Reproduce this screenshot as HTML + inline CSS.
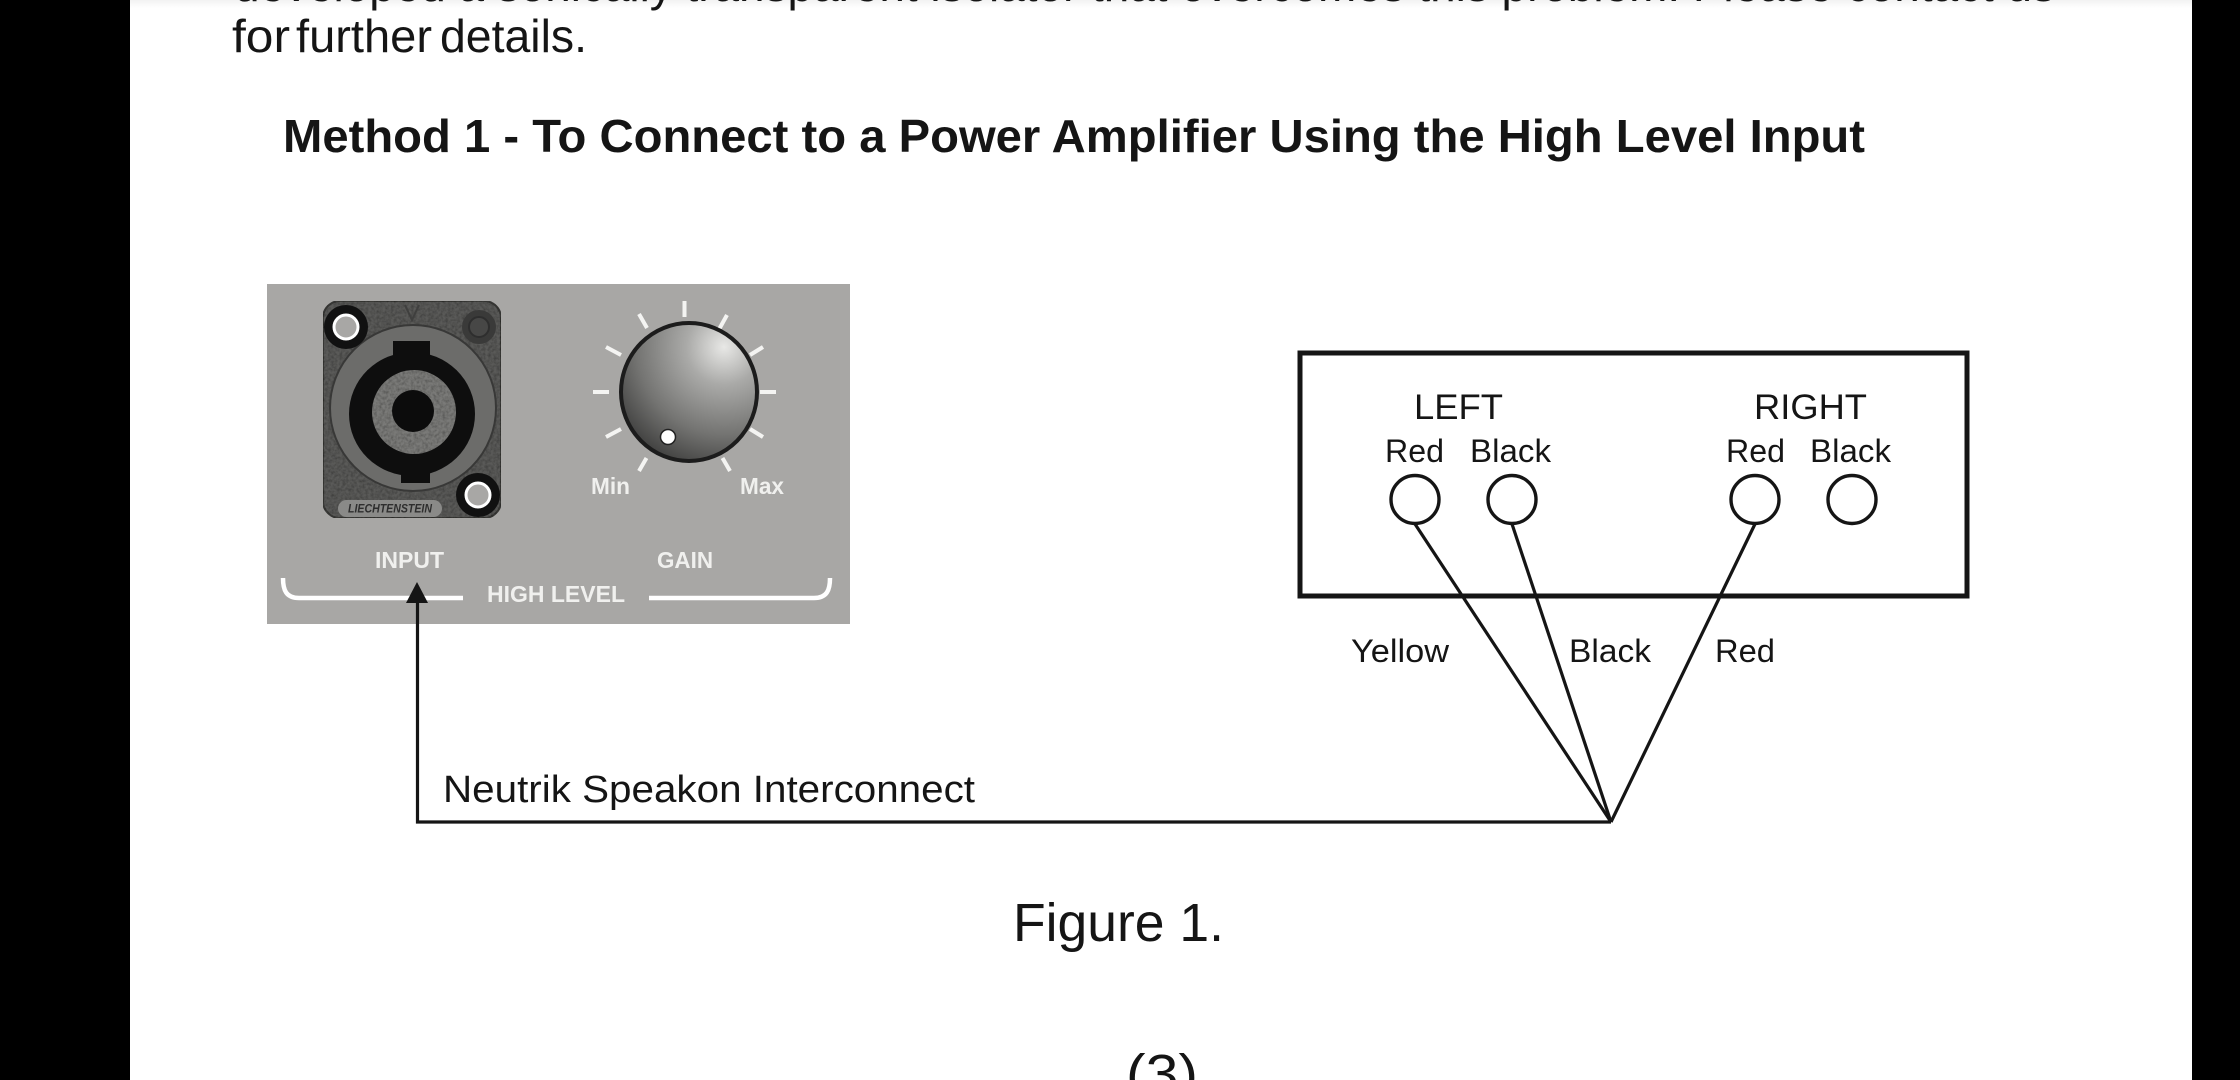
<!DOCTYPE html>
<html>
<head>
<meta charset="utf-8">
<style>
html,body{margin:0;padding:0;width:2240px;height:1080px;overflow:hidden;background:linear-gradient(90deg,#000 130px,#fff 130px,#fff 2192px,#000 2192px)}
svg{display:block;position:absolute;left:0;top:0;filter:blur(.35px)}
text{font-family:"Liberation Sans",sans-serif;fill:#151515}
</style>
</head>
<body>
<svg width="2240" height="1080" viewBox="0 0 2240 1080" xmlns="http://www.w3.org/2000/svg">
<defs>
<radialGradient id="knob" gradientUnits="userSpaceOnUse" cx="724" cy="347" r="125">
<stop offset="0" stop-color="#e8e8e6"/>
<stop offset=".3" stop-color="#aaaaa8"/>
<stop offset=".7" stop-color="#747472"/>
<stop offset="1" stop-color="#424241"/>
</radialGradient>
<linearGradient id="top" x1="0" y1="0" x2="0" y2="1">
<stop offset="0" stop-color="#ececec"/>
<stop offset="1" stop-color="#ffffff"/>
</linearGradient>
<filter id="noise" x="0" y="0" width="100%" height="100%">
<feTurbulence type="fractalNoise" baseFrequency=".35" numOctaves="2" seed="4"/>
<feColorMatrix type="matrix" values="0 0 0 0 0  0 0 0 0 0  0 0 0 0 0  0 0 0 .9 -.3"/>
<feComposite in2="SourceGraphic" operator="in"/>
<feMerge><feMergeNode in="SourceGraphic"/><feMergeNode/></feMerge>
</filter>
</defs>

<!-- page -->
<rect x="130" y="-4" width="2062" height="1088" fill="#fff"/>
<rect x="130" y="-4" width="2062" height="12" fill="url(#top)"/>

<!-- body text -->
<text x="234" y="1" font-size="46" textLength="1821" lengthAdjust="spacingAndGlyphs">developed a sonically transparent isolator that overcomes this problem. Please contact us</text>
<text x="232" y="52" font-size="46" textLength="58" lengthAdjust="spacingAndGlyphs">for</text>
<text x="296" y="52" font-size="46" textLength="136" lengthAdjust="spacingAndGlyphs">further</text>
<text x="440" y="52" font-size="46" textLength="147" lengthAdjust="spacingAndGlyphs">details.</text>
<text x="283" y="152" font-size="46" font-weight="bold" textLength="1582" lengthAdjust="spacingAndGlyphs">Method 1 - To Connect to a Power Amplifier Using the High Level Input</text>

<!-- grey panel -->
<rect x="267" y="284" width="583" height="340" fill="#a8a7a5"/>

<!-- connector -->
<rect x="323" y="301" width="178" height="217" rx="17" fill="#5a5a58" stroke="#3a3a39" stroke-width="2" filter="url(#noise)"/>
<ellipse cx="413" cy="408" rx="83" ry="83" fill="#6c6c6a" stroke="#383837" stroke-width="2"/>
<ellipse cx="412" cy="414" rx="63" ry="62" fill="#0e0e0e"/>
<rect x="393" y="341" width="37" height="22" fill="#0e0e0e"/>
<rect x="401" y="466" width="29" height="17" fill="#0e0e0e"/>
<ellipse cx="414" cy="412" rx="42" ry="42" fill="#7a7a78" filter="url(#noise)"/>
<ellipse cx="413" cy="411" rx="21" ry="21" fill="#0c0c0c"/>
<path d="M405 305l7 15 7-15" fill="none" stroke="#3f3f3e" stroke-width="2"/>
<circle cx="346" cy="327" r="22" fill="#111"/>
<circle cx="346" cy="327" r="12" fill="#a8a7a5" stroke="#fff" stroke-width="3"/>
<circle cx="479" cy="327" r="17" fill="#3a3a39"/>
<circle cx="479" cy="327" r="10" fill="#474746" stroke="#2e2e2e" stroke-width="2"/>
<circle cx="478" cy="495" r="22" fill="#111"/>
<circle cx="478" cy="495" r="12" fill="#a8a7a5" stroke="#fff" stroke-width="3"/>
<rect x="338" y="500" width="104" height="17" rx="8.5" fill="#8a8a88"/>
<text x="348" y="512.5" font-size="12" font-weight="bold" font-style="italic" textLength="84" lengthAdjust="spacingAndGlyphs" style="fill:#2e2e2e">LIECHTENSTEIN</text>

<!-- knob ticks -->
<g stroke="#f4f4f2" stroke-width="4" stroke-linecap="butt">
<line x1="684.5" y1="301" x2="684.5" y2="317"/>
<line x1="727" y1="315" x2="717" y2="333"/>
<line x1="763" y1="347" x2="750" y2="355"/>
<line x1="776" y1="392" x2="760" y2="392"/>
<line x1="763" y1="437" x2="750" y2="429"/>
<line x1="730" y1="471" x2="722.5" y2="458"/>
<line x1="639" y1="471" x2="646.5" y2="458"/>
<line x1="606" y1="437" x2="621" y2="429"/>
<line x1="593" y1="392" x2="609" y2="392"/>
<line x1="606" y1="347" x2="621" y2="355"/>
<line x1="639" y1="314" x2="647" y2="328"/>
</g>
<ellipse cx="689" cy="392" rx="68" ry="69" fill="url(#knob)" stroke="#1c1c1c" stroke-width="4"/>
<circle cx="668" cy="437" r="7.5" fill="#fff" stroke="#222" stroke-width="1.5"/>

<!-- panel labels -->
<g style="font-weight:bold" font-size="23">
<text x="591" y="494" textLength="39" lengthAdjust="spacingAndGlyphs" style="fill:#f0f0ee">Min</text>
<text x="740" y="494" textLength="44" lengthAdjust="spacingAndGlyphs" style="fill:#f0f0ee">Max</text>
<text x="375" y="568" textLength="69" lengthAdjust="spacingAndGlyphs" style="fill:#f0f0ee">INPUT</text>
<text x="657" y="568" textLength="56" lengthAdjust="spacingAndGlyphs" style="fill:#f0f0ee">GAIN</text>
<text x="487" y="602" textLength="138" lengthAdjust="spacingAndGlyphs" style="fill:#f0f0ee">HIGH LEVEL</text>
</g>
<path d="M283 578c0 12 3 20 16 20H463" fill="none" stroke="#fff" stroke-width="4.5"/>
<path d="M649 598H814c13 0 16-8 16-20" fill="none" stroke="#fff" stroke-width="4.5"/>

<!-- interconnect -->
<polyline points="417.5,601 417.5,822 1611,822" fill="none" stroke="#151515" stroke-width="3.2"/>
<polygon points="417,582 406,603 428,603" fill="#151515"/>
<text x="443" y="802" font-size="38" textLength="532" lengthAdjust="spacingAndGlyphs">Neutrik Speakon Interconnect</text>

<!-- amp box -->
<rect x="1300" y="353" width="667" height="243" fill="none" stroke="#151515" stroke-width="5"/>
<text x="1414" y="419" font-size="35" textLength="89" lengthAdjust="spacingAndGlyphs">LEFT</text>
<text x="1754" y="419" font-size="35" textLength="113" lengthAdjust="spacingAndGlyphs">RIGHT</text>
<g font-size="32">
<text x="1385" y="462" textLength="59" lengthAdjust="spacingAndGlyphs">Red</text>
<text x="1470" y="462" textLength="81" lengthAdjust="spacingAndGlyphs">Black</text>
<text x="1726" y="462" textLength="59" lengthAdjust="spacingAndGlyphs">Red</text>
<text x="1810" y="462" textLength="81" lengthAdjust="spacingAndGlyphs">Black</text>
<text x="1351" y="662" textLength="98" lengthAdjust="spacingAndGlyphs">Yellow</text>
<text x="1569" y="662" textLength="82" lengthAdjust="spacingAndGlyphs">Black</text>
<text x="1715" y="662" textLength="60" lengthAdjust="spacingAndGlyphs">Red</text>
</g>
<g fill="#fff" stroke="#151515" stroke-width="3.4">
<circle cx="1415" cy="499.5" r="24"/>
<circle cx="1512" cy="499.5" r="24"/>
<circle cx="1755" cy="499.5" r="24"/>
<circle cx="1852" cy="499.5" r="24"/>
</g>
<g stroke="#151515" stroke-width="3.2" fill="none">
<line x1="1415" y1="524" x2="1611" y2="822"/>
<line x1="1512" y1="524" x2="1611" y2="822"/>
<line x1="1755" y1="524" x2="1611" y2="822"/>
</g>

<!-- captions -->
<text x="1013" y="941" font-size="54" textLength="211" lengthAdjust="spacingAndGlyphs">Figure 1.</text>
<text x="1126" y="1092" font-size="54" textLength="72" lengthAdjust="spacingAndGlyphs">(3)</text>
</svg>
</body>
</html>
